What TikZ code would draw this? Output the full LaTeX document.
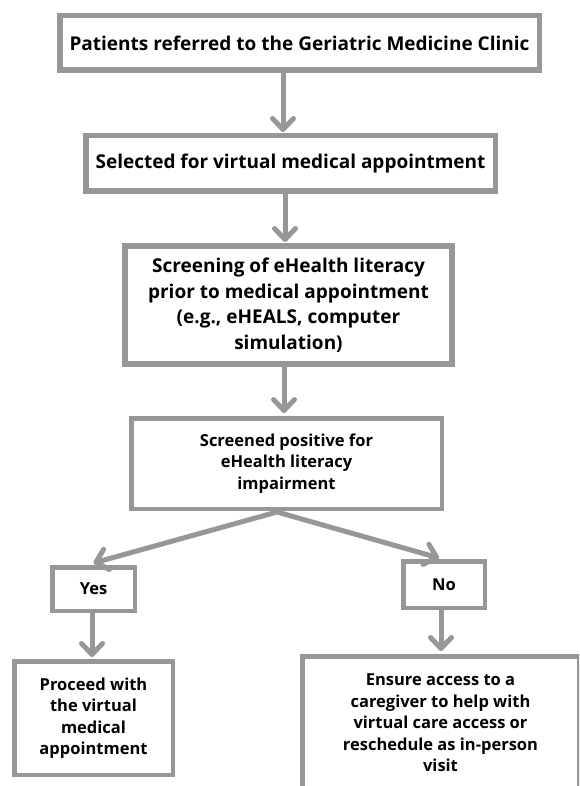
\documentclass[tikz,border=0pt]{standalone}
\usepackage{fontspec}
\setmainfont{Open Sans}
\usetikzlibrary{arrows.meta,calc}
\definecolor{lg}{RGB}{151,151,151}
\tikzset{
  boxbig/.style={draw=lg, line width=5.5pt, fill=white, inner sep=0pt, align=center,
     font=\fontsize{19}{25.5}\selectfont\bfseries, text=black},
  boxsmall/.style={draw=lg, line width=4.5pt, fill=white, inner sep=0pt, align=center,
     font=\fontsize{16.5}{21.5}\selectfont\bfseries, text=black},
  arr/.style={draw=lg, line width=5pt, -{Straight Barb[length=11pt,width=21pt,round]}}
}
\begin{document}
\begin{tikzpicture}[x=1pt,y=-1pt]
\useasboundingbox (0,0) rectangle (579,786);
\clip (0,0) rectangle (579,786);
\fill[white] (0,0) rectangle (579,786);
% boxes
\node[boxbig, minimum width=479.5pt, minimum height=54.5pt] (b1) at (299.5,43)
  {Patients referred to the Geriatric Medicine Clinic};
\node[boxbig, minimum width=409.5pt, minimum height=55.5pt] (b2) at (290.5,163.5)
  {Selected for virtual medical appointment};
\node[boxbig, line width=6pt, minimum width=327pt, minimum height=118pt] (b3) at (288.5,305)
  {Screening of eHealth literacy\\prior to medical appointment\\(e.g., eHEALS, computer\\simulation)};
\node[boxsmall, minimum width=310.5pt, minimum height=90.5pt] (b4) at (286.5,463.5)
  {Screened positive for\\eHealth literacy\\impairment};
\node[boxsmall, minimum width=82.5pt, minimum height=43.5pt] (yes) at (93.5,589)
  {Yes};
\node[boxsmall, minimum width=81.5pt, minimum height=46.5pt] (no) at (444,584.5)
  {No};
\node[boxsmall, minimum width=158.5pt, minimum height=113.5pt] (yesres) at (93.5,718)
  {Proceed with\\the virtual\\medical\\appointment};
\node[boxsmall, minimum width=276.5pt, minimum height=133.5pt] (nores) at (440.5,723)
  {Ensure access to a\\caregiver to help with\\virtual care access or\\reschedule as in-person\\visit};
% connectors
\draw[arr] ([xshift=-16.5pt]b1.south) -- ([xshift=-16.5pt,yshift=1pt]b1.south |- b2.north);
\draw[arr] ([xshift=-5.5pt]b2.south) -- ([xshift=-5.5pt,yshift=1pt]b2.south |- b3.north);
\draw[arr] ([xshift=-4.5pt]b3.south) -- ([xshift=-4.5pt,yshift=3pt]b3.south |- b4.north);
\coordinate (split) at ([xshift=-9.5pt,yshift=-1pt]b4.south);
\draw[arr] (split) -- ([yshift=2pt]yes.north);
\draw[arr] (split) -- ([xshift=-5pt,yshift=1pt]no.north);
\draw[arr] ([xshift=-1.5pt]yes.south) -- ([xshift=-1.5pt,yshift=2pt]yesres.north -| yes.south);
\draw[arr] ([xshift=-3pt]no.south) -- ([xshift=-3pt,yshift=3pt]nores.north -| no.south);
\end{tikzpicture}
\end{document}
